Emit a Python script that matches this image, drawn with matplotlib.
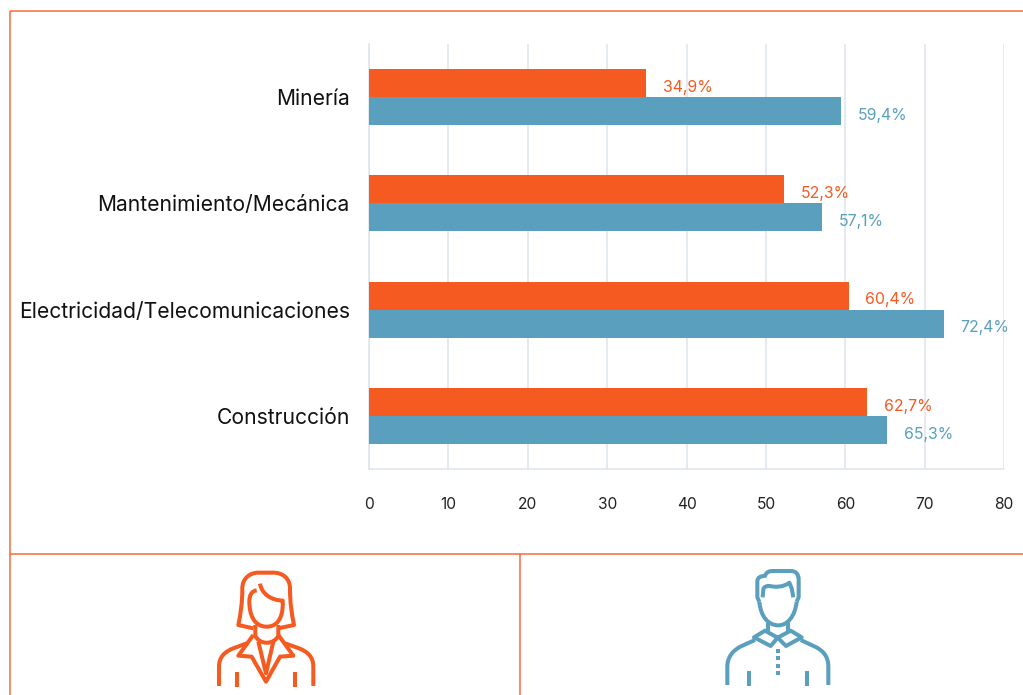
import matplotlib
matplotlib.use("Agg")
import matplotlib.pyplot as plt
from matplotlib.path import Path
from matplotlib.patches import PathPatch, Rectangle

plt.rcParams['font.family'] = ['Inter', 'DejaVu Sans']

categories = ["Minería", "Mantenimiento/Mecánica", "Electricidad/Telecomunicaciones", "Construcción"]
mujeres = [34.9, 52.3, 60.4, 62.7]
hombres = [59.4, 57.1, 72.4, 65.3]
x_ticks = [0, 10, 20, 30, 40, 50, 60, 70, 80]

ORANGE = "#F55A20"
BLUE = "#5A9FBD"
FRAME = "#FB6A3A"
GRID = "#DCE4EB"
W, H = 1023, 695

fig = plt.figure(figsize=(W / 100, H / 100), dpi=100)

# axes placed in pixels of the original
ax = fig.add_axes([369 / W, 1 - 469 / H, (1004.2 - 369) / W, (469 - 44) / H])
pos = list(range(len(categories)))
bar_h = 0.264
ax.barh([p - bar_h / 2 for p in pos], mujeres, height=bar_h, color=ORANGE, zorder=3)
ax.barh([p + bar_h / 2 for p in pos], hombres, height=bar_h, color=BLUE, zorder=3)

for p, a, b in zip(pos, mujeres, hombres):
    ax.annotate(f"{a:.1f}%".replace(".", ","), (a, p - bar_h / 2), xytext=(12, -3), textcoords="offset points",
                va="center", ha="left", fontsize=11.4, color=ORANGE, annotation_clip=False)
    ax.annotate(f"{b:.1f}%".replace(".", ","), (b, p + bar_h / 2), xytext=(12, -3), textcoords="offset points",
                va="center", ha="left", fontsize=11.4, color=BLUE, annotation_clip=False)

ax.set_xlim(0, 80)
ax.set_ylim(len(categories) - 0.5, -0.5)
ax.set_yticks(pos)
ax.set_yticklabels(categories, fontsize=15.15, color="#111111")
ax.set_xticks(x_ticks)
ax.tick_params(axis="x", length=0, pad=20, labelsize=11.2, labelcolor="#222222")
ax.tick_params(axis="y", length=0, pad=13.8)
ax.grid(axis="x", color=GRID, lw=1.1, zorder=0)
for s in ["top", "right"]:
    ax.spines[s].set_visible(False)
for s in ["left", "bottom"]:
    ax.spines[s].set_color(GRID)
    ax.spines[s].set_linewidth(1.1)

# overlay for frame lines and icons, in pixel coordinates
ov = fig.add_axes([0, 0, 1, 1], facecolor="none")
ov.set_xlim(0, W)
ov.set_ylim(H, 0)
ov.axis("off")
for xs, ys in [([10, W], [11, 11]), ([10, 10], [11, H]), ([10, W], [553.5, 553.5]), ([520, 520], [553.5, H])]:
    ov.plot(xs, ys, color=FRAME, lw=1.1, solid_capstyle="butt")


def stroke(segs, color, ox, oy):
    # segs: start point then 1 point = line, 3 points = bezier
    verts = [segs[0]]
    codes = [Path.MOVETO]
    for s in segs[1:]:
        if len(s) == 3:
            verts += list(s)
            codes += [Path.CURVE4] * 3
        else:
            verts.append(s[0])
            codes.append(Path.LINETO)
    verts = [(ox + x / 3, oy + y / 3) for x, y in verts]
    ov.add_patch(PathPatch(Path(verts, codes), fc="none", ec=color, lw=2.9, capstyle="butt", joinstyle="round"))


woman = [
    [(190, 205), [(145, 195)], [(152, 160), (157, 130), (157, 85)], [(157, 55), (180, 38), (205, 38)],
     [(250, 38)], [(278, 38), (300, 55), (300, 85)], [(300, 130), (305, 160), (312, 195)], [(265, 205)]],
    [(210, 71), [(215, 100), (240, 120), (278, 122)], [(280, 150), (275, 200), (230, 200)],
     [(190, 200), (178, 160), (178, 125)], [(178, 105), (185, 93), (200, 91)]],
    [(196, 195), [(196, 228)], [(210, 255), (250, 255), (265, 228)], [(265, 195)]],
    [(190, 225), [(145, 287)], [(185, 290)], [(228, 365)], [(270, 290)], [(310, 287)], [(265, 225)]],
    [(205, 245), [(228, 340)], [(250, 245)]],
    [(87, 378), [(87, 320)], [(87, 290), (105, 275), (130, 265)], [(170, 250)]],
    [(370, 378), [(370, 320)], [(370, 290), (352, 275), (327, 265)], [(285, 250)]],
    [(141, 336), [(141, 380)]],
    [(315, 336), [(315, 380)]],
]
man = [
    [(178, 125), [(172, 112)], [(172, 65)], [(172, 53), (180, 48), (195, 48)], [(198, 38), (205, 33), (218, 33)],
     [(272, 33)], [(288, 33), (296, 42), (296, 60)], [(296, 112)], [(290, 125)]],
    [(188, 112), [(190, 88)], [(192, 80), (200, 77), (210, 78)], [(225, 82), (250, 82), (268, 68)],
     [(275, 85)], [(280, 112)]],
    [(178, 125), [(182, 170), (205, 196), (235, 196)], [(262, 196), (285, 170), (290, 125)]],
    [(203, 190), [(203, 212)]],
    [(265, 190), [(265, 212)]],
    [(233, 233), [(195, 212)], [(162, 232)], [(212, 258)], [(233, 233)], [(258, 258)], [(305, 232)], [(272, 212)], [(233, 233)]],
    [(82, 375), [(82, 320)], [(82, 290), (100, 270), (125, 258)], [(165, 240)]],
    [(385, 375), [(385, 320)], [(385, 290), (370, 272), (345, 260)], [(302, 240)]],
    [(147, 333), [(147, 378)]],
    [(321, 333), [(321, 378)]],
]
for st in woman:
    stroke(st, ORANGE, 190, 560)
for st in man:
    stroke(st, BLUE, 700, 560)
for y in [272, 295, 317, 340]:
    ov.add_patch(Rectangle((700 + 228 / 3, 560 + (y - 6) / 3), 4, 4, fc=BLUE, ec="none"))

fig.savefig("out.png", dpi=100)
